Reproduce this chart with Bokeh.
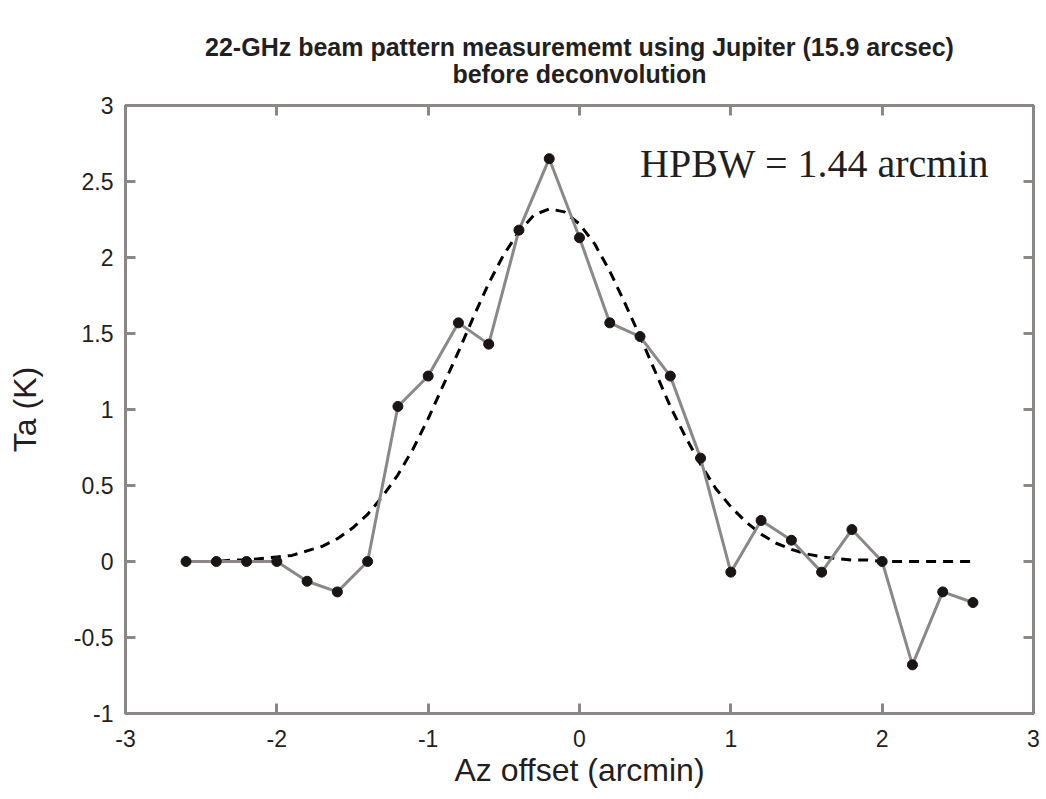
from bokeh.plotting import figure
from bokeh.models import LinearAxis, FixedTicker, Title, Label, Range1d
from bokeh.embed import file_html
from bokeh.resources import INLINE

# measured data
az_offset = [-2.6, -2.4, -2.2, -2.0, -1.8, -1.6, -1.4, -1.2, -1.0, -0.8, -0.6, -0.4, -0.2,
             0.0, 0.2, 0.4, 0.6, 0.8, 1.0, 1.2, 1.4, 1.6, 1.8, 2.0, 2.2, 2.4, 2.6]
ta_meas = [0.0, 0.0, 0.0, 0.0, -0.13, -0.2, 0.0, 1.02, 1.22, 1.57, 1.43, 2.18, 2.65,
           2.13, 1.57, 1.48, 1.22, 0.68, -0.07, 0.27, 0.14, -0.07, 0.21, 0.0, -0.68, -0.2, -0.27]

# fitted beam (dashed)
fit_x = [-2.6, -2.5, -2.4, -2.3, -2.2, -2.1, -2.0, -1.9, -1.8, -1.7, -1.6, -1.5, -1.4, -1.3,
         -1.2, -1.1, -1.0, -0.9, -0.8, -0.7, -0.6, -0.5, -0.4, -0.3, -0.2, -0.1, 0.0, 0.1,
         0.2, 0.3, 0.4, 0.5, 0.6, 0.7, 0.8, 0.9, 1.0, 1.1, 1.2, 1.3, 1.4, 1.5, 1.6, 1.7,
         1.8, 1.9, 2.0, 2.1, 2.2, 2.3, 2.4, 2.5, 2.6]
fit_y = [0.0, 0.0, 0.0, 0.01, 0.01, 0.02, 0.03, 0.04, 0.07, 0.10, 0.15, 0.22, 0.31, 0.43,
         0.57, 0.74, 0.94, 1.16, 1.38, 1.61, 1.83, 2.02, 2.17, 2.28, 2.32, 2.30, 2.22, 2.09,
         1.91, 1.70, 1.48, 1.25, 1.02, 0.82, 0.64, 0.48, 0.36, 0.26, 0.18, 0.12, 0.08, 0.05,
         0.03, 0.02, 0.01, 0.01, 0.0, 0.0, 0.0, 0.0, 0.0, 0.0, 0.0]

x_ticks = [-3, -2, -1, 0, 1, 2, 3]
x_tick_labels = ["-3", "-2", "-1", "0", "1", "2", "3"]
y_ticks = [-1, -0.5, 0, 0.5, 1, 1.5, 2, 2.5, 3]
y_tick_labels = ["-1", "-0.5", "0", "0.5", "1", "1.5", "2", "2.5", "3"]

title_lines = ["22-GHz beam pattern measurememt using Jupiter (15.9 arcsec)",
               "before deconvolution"]
annotation = "HPBW = 1.44 arcmin"

AXIS_GRAY = "#8b8787"
TEXT_DARK = "#231f20"
SANS = "Liberation Sans"

p = figure(frame_width=908, frame_height=608, output_backend="svg", toolbar_location=None,
           x_range=Range1d(-3, 3), y_range=Range1d(-1, 3),
           x_axis_location=None, y_axis_location=None,
           min_border_left=125, min_border_right=8, min_border_top=105, min_border_bottom=80)
p.background_fill_color = "white"
p.border_fill_color = "white"
p.xgrid.visible = False
p.ygrid.visible = False
p.outline_line_color = AXIS_GRAY
p.outline_line_width = 3

def style_axis(ax, ticks, labels, show_labels):
    ax.ticker = FixedTicker(ticks=ticks)
    ax.axis_line_color = AXIS_GRAY
    ax.axis_line_width = 3
    ax.major_tick_line_color = AXIS_GRAY
    ax.major_tick_line_width = 3
    ax.major_tick_in = 10
    ax.major_tick_out = 0
    ax.minor_tick_line_color = None
    ax.major_label_text_font = SANS
    if show_labels:
        ax.major_label_overrides = {t: l for t, l in zip(ticks, labels)}
        ax.major_label_text_color = TEXT_DARK
        ax.major_label_text_font_size = "23px"
    else:
        ax.major_label_text_color = None
        ax.major_label_text_font_size = "1px"
        ax.major_label_standoff = 0

xb = LinearAxis(axis_label="Az offset (arcmin)")
style_axis(xb, x_ticks, x_tick_labels, True)
xb.major_label_standoff = 16
xb.axis_label_text_font = SANS
xb.axis_label_text_font_size = "32px"
xb.axis_label_text_font_style = "normal"
xb.axis_label_text_color = TEXT_DARK
xb.axis_label_standoff = 2
p.add_layout(xb, "below")

yl = LinearAxis(axis_label="Ta (K)")
style_axis(yl, y_ticks, y_tick_labels, True)
yl.major_label_standoff = 12
yl.axis_label_text_font = SANS
yl.axis_label_text_font_size = "32px"
yl.axis_label_text_font_style = "normal"
yl.axis_label_text_color = TEXT_DARK
yl.axis_label_standoff = 28
p.add_layout(yl, "left")

xt = LinearAxis()
style_axis(xt, x_ticks, x_tick_labels, False)
p.add_layout(xt, "above")

yr = LinearAxis()
style_axis(yr, y_ticks, y_tick_labels, False)
p.add_layout(yr, "right")

p.add_layout(Title(text="\n".join(title_lines), align="center", text_align="center",
                   text_font=SANS, text_font_size="25px",
                   text_font_style="bold", text_color=TEXT_DARK, text_line_height=0.98,
                   standoff=35), "above")

p.line(fit_x, fit_y, line_color="black", line_width=3, line_dash="10 7")
p.line(az_offset, ta_meas, line_color="#8c8888", line_width=3)
p.scatter(az_offset, ta_meas, size=10, fill_color="#1a1414", line_color="#1a1414")

p.add_layout(Label(x=0.4, y=2.62, text=annotation, text_font="Liberation Serif",
                   text_font_size="40px", text_color=TEXT_DARK, text_baseline="middle",
                   text_align="left"))

open("out.html", "w").write(file_html(p, INLINE))
